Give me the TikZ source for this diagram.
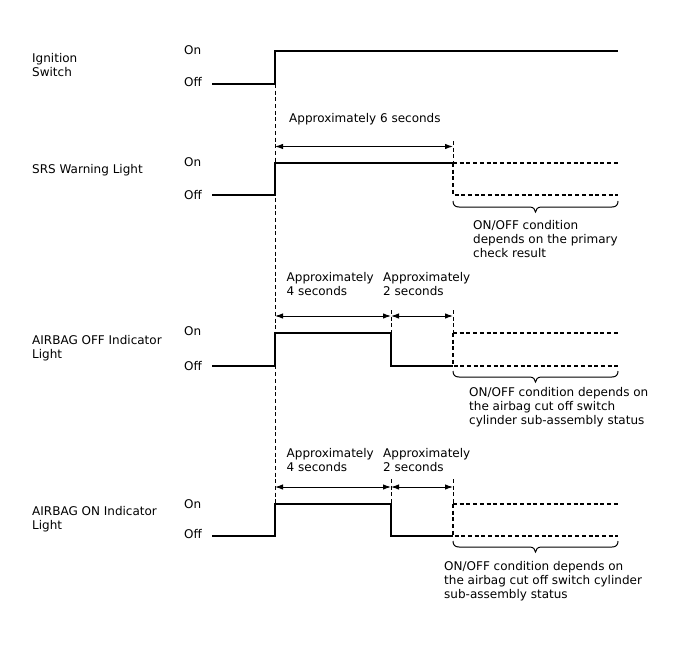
\documentclass[tikz,border=0pt]{standalone}
\usepackage{fontspec}
\setmainfont{DejaVu Sans}
\usetikzlibrary{arrows.meta}
\newcommand\mycurlybrace[2]{%
  \draw[brc] (#1) .. controls +(0,4) and +(-4,0) .. ++(6,6) -- ++(70.5,0)
    .. controls +(3.5,0) and +(0,-3) .. ++(6,5)
    .. controls +(0,-3) and +(-3.5,0) .. ++(6,-5) -- ++(70.5,0)
    .. controls +(4,0) and +(0,4) .. (#2);}
\begin{document}
\begin{tikzpicture}[x=1pt,y=-1pt,
 lbl/.style={font=\fontsize{12}{14}\selectfont, inner sep=0pt, anchor=base west, align=left},
 sig/.style={line width=1.4pt},
 unk/.style={line width=1.2pt, dash pattern=on 4pt off 2.7pt},
 guide/.style={line width=0.8pt, dash pattern=on 4pt off 2.7pt},
 dimline/.style={line width=1pt, {Latex[length=8pt,width=5.5pt]}-{Latex[length=8pt,width=5.5pt]}},
 brc/.style={line width=1pt}]
\useasboundingbox (0,0) rectangle (688,658);

% ---------- Ignition switch ----------
\node[lbl] (ig) at (32,77) {Ignition\\Switch};
\node[lbl] (igon) at (184,55) {On};
\node[lbl] (igoff) at (184,87) {Off};
\coordinate (i0) at (212,84);
\coordinate (i1) at (275,84);
\coordinate (i2) at (275,51);
\coordinate (i3) at (618,51);
\draw[sig] (i0) -- (i1) -- (i2) -- (i3);
\coordinate (gEnd) at (275,536);
\draw[guide] (i1) -- (gEnd);

% ---------- SRS warning light ----------
\node[lbl] (srs) at (32,173.5) {SRS Warning Light};
\node[lbl] (srson) at (184,167) {On};
\node[lbl] (srsoff) at (184,199) {Off};
\node[lbl] (srst) at (289,122.7) {Approximately 6 seconds};
\coordinate (s0) at (212,195);
\coordinate (s1) at (275,195);
\coordinate (s2) at (275,163);
\coordinate (s3) at (453,163);
\coordinate (s4) at (453,195);
\coordinate (s5) at (618,163);
\coordinate (s6) at (618,195);
\coordinate (sg) at (453,141);
\coordinate (sa0) at (275,146.5);
\coordinate (sa1) at (453,146.5);
\draw[sig] (s0) -- (s1) -- (s2) -- (s3);
\draw[unk] (s3) -- (s5);
\draw[unk] (s3) -- (s4) -- (s6);
\draw[guide] (sg) -- (s3);
\draw[dimline] (sa0) -- (sa1);
\coordinate (sb0) at (453,201);
\coordinate (sb1) at (618,201);
\mycurlybrace{sb0}{sb1}
\node[lbl] (srsn) at (473,257.5) {ON/OFF condition\\depends on the primary\\check result};

% ---------- AIRBAG OFF indicator ----------
\node[lbl] (ao) at (32,358) {AIRBAG OFF Indicator\\Light};
\node[lbl] (aoon) at (184,335) {On};
\node[lbl] (aooff) at (184,370.5) {Off};
\node[lbl] (aot1) at (286.5,295.5) {Approximately\\4 seconds};
\node[lbl] (aot2) at (383,295.5) {Approximately\\2 seconds};
\coordinate (o0) at (212,366);
\coordinate (o1) at (275,366);
\coordinate (o2) at (275,333);
\coordinate (o3) at (391,333);
\coordinate (o4) at (391,366);
\coordinate (o5) at (453,366);
\coordinate (o6) at (453,333);
\coordinate (o7) at (618,333);
\coordinate (o8) at (618,366);
\coordinate (og1) at (391,310);
\coordinate (og2) at (453,310);
\coordinate (oa0) at (275,316);
\coordinate (oa1) at (391,316);
\coordinate (oa2) at (453,316);
\draw[sig] (o0) -- (o1) -- (o2) -- (o3) -- (o4) -- (o5);
\draw[unk] (o6) -- (o7);
\draw[unk] (o6) -- (o5) -- (o8);
\draw[guide] (og1) -- (o3);
\draw[guide] (og2) -- (o6);
\draw[dimline] (oa0) -- (oa1);
\draw[dimline] (oa1) -- (oa2);
\coordinate (ob0) at (453,371);
\coordinate (ob1) at (618,371);
\mycurlybrace{ob0}{ob1}
\node[lbl] (aon) at (469,424.5) {ON/OFF condition depends on\\the airbag cut off switch\\cylinder sub-assembly status};

% ---------- AIRBAG ON indicator ----------
\node[lbl] (an) at (32,529.5) {AIRBAG ON Indicator\\Light};
\node[lbl] (anon) at (184,508) {On};
\node[lbl] (anoff) at (184,538.5) {Off};
\node[lbl] (ant1) at (286.5,471.5) {Approximately\\4 seconds};
\node[lbl] (ant2) at (383,471.5) {Approximately\\2 seconds};
\coordinate (n0) at (212,536);
\coordinate (n1) at (275,536);
\coordinate (n2) at (275,504);
\coordinate (n3) at (391,504);
\coordinate (n4) at (391,536);
\coordinate (n5) at (453,536);
\coordinate (n6) at (453,504);
\coordinate (n7) at (618,504);
\coordinate (n8) at (618,536);
\coordinate (ng1) at (391,479);
\coordinate (ng2) at (453,479);
\coordinate (na0) at (275,487);
\coordinate (na1) at (391,487);
\coordinate (na2) at (453,487);
\draw[sig] (n0) -- (n1) -- (n2) -- (n3) -- (n4) -- (n5);
\draw[unk] (n6) -- (n7);
\draw[unk] (n6) -- (n5) -- (n8);
\draw[guide] (ng1) -- (n3);
\draw[guide] (ng2) -- (n6);
\draw[dimline] (na0) -- (na1);
\draw[dimline] (na1) -- (na2);
\coordinate (nb0) at (453,541);
\coordinate (nb1) at (618,541);
\mycurlybrace{nb0}{nb1}
\node[lbl] (ann) at (444,598.5) {ON/OFF condition depends on\\the airbag cut off switch cylinder\\sub-assembly status};
\end{tikzpicture}
\end{document}
